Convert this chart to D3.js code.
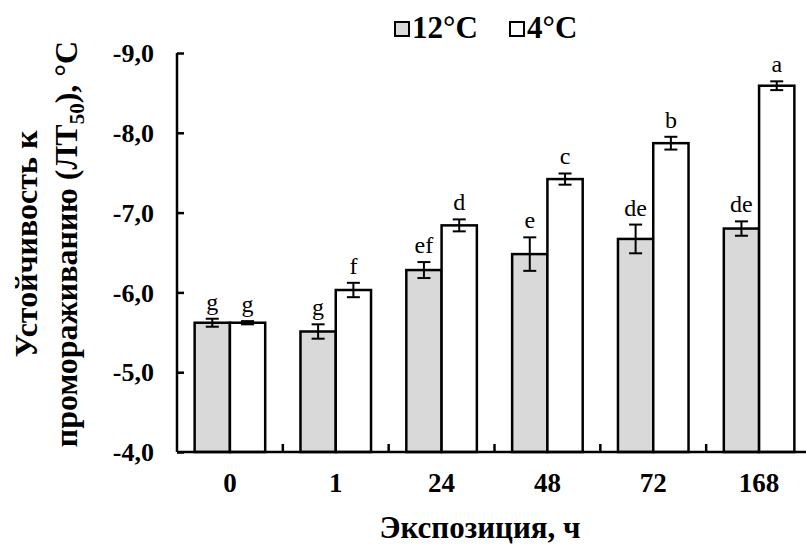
<!DOCTYPE html>
<html>
<head>
<meta charset="utf-8">
<script src="https://cdn.jsdelivr.net/npm/d3@7/dist/d3.min.js"></script>
<style>
  html, body { margin: 0; padding: 0; background: #fff; }
  svg { display: block; }
</style>
</head>
<body>
<svg id="chart" width="806" height="546" font-family="'Liberation Serif', serif"></svg>
<script>
// Exposure time (hours) and frost resistance LT50 (°C) for two hardening temperatures
const categories = ["0", "1", "24", "48", "72", "168"];
const seriesNames = ["12°C", "4°C"];
const values12 = [-5.62, -5.51, -6.28, -6.48, -6.67, -6.80];
const errors12 = [0.05, 0.09, 0.10, 0.21, 0.18, 0.09];
const letters12 = ["g", "g", "ef", "e", "de", "de"];
const values4 = [-5.62, -6.03, -6.84, -7.42, -7.87, -8.59];
const errors4 = [0.02, 0.09, 0.075, 0.07, 0.08, 0.055];
const letters4 = ["g", "f", "d", "c", "b", "a"];
const yTicks = [-4, -5, -6, -7, -8, -9];
const fills = ["#d9d9d9", "#ffffff"];

const rows = categories.map((c, i) => ({
  cat: c,
  bars: [
    { s: 0, v: values12[i], e: errors12[i], l: letters12[i] },
    { s: 1, v: values4[i], e: errors4[i], l: letters4[i] }
  ]
}));

const svg = d3.select("#chart");
const plotL = 177, plotR = 812, plotT = 53, plotB = 452;

const x = d3.scaleBand().domain(categories).range([plotL, plotR]).paddingInner(0).paddingOuter(0);
const xs = d3.scaleBand().domain([0, 1]).range([0, x.bandwidth()]).paddingInner(0).paddingOuter(0.5);
const y = d3.scaleLinear().domain([-4, -9]).range([plotB, plotT]);

// bars
const g = svg.append("g");
const groups = g.selectAll("g.cat").data(rows).join("g")
  .attr("transform", d => `translate(${x(d.cat)},0)`);

groups.selectAll("rect").data(d => d.bars).join("rect")
  .attr("x", d => xs(d.s))
  .attr("y", d => y(d.v))
  .attr("width", xs.bandwidth())
  .attr("height", d => y(-4) - y(d.v))
  .attr("fill", d => fills[d.s])
  .attr("stroke", "#000")
  .attr("stroke-width", 2.5);

// error bars
const cap = 6.5;
const eb = groups.selectAll("g.err").data(d => d.bars).join("g").attr("class", "err")
  .attr("stroke", "#000").attr("stroke-width", 2);
eb.append("line")
  .attr("x1", d => xs(d.s) + xs.bandwidth() / 2).attr("x2", d => xs(d.s) + xs.bandwidth() / 2)
  .attr("y1", d => y(d.v - d.e)).attr("y2", d => y(d.v + d.e));
eb.append("line")
  .attr("x1", d => xs(d.s) + xs.bandwidth() / 2 - cap).attr("x2", d => xs(d.s) + xs.bandwidth() / 2 + cap)
  .attr("y1", d => y(d.v - d.e)).attr("y2", d => y(d.v - d.e));
eb.append("line")
  .attr("x1", d => xs(d.s) + xs.bandwidth() / 2 - cap).attr("x2", d => xs(d.s) + xs.bandwidth() / 2 + cap)
  .attr("y1", d => y(d.v + d.e)).attr("y2", d => y(d.v + d.e));

// significance letters
groups.selectAll("text.sig").data(d => d.bars).join("text").attr("class", "sig")
  .attr("x", d => xs(d.s) + xs.bandwidth() / 2)
  .attr("y", d => y(d.v - d.e) - 9)
  .attr("text-anchor", "middle")
  .attr("font-size", 24)
  .text(d => d.l);

// y axis
const yAxis = d3.axisRight(y).tickValues(yTicks).tickSize(7).tickFormat(() => "");
const ya = svg.append("g").attr("transform", `translate(${plotL},0)`).call(yAxis);
ya.select(".domain").remove();
ya.selectAll(".tick line").attr("stroke", "#000").attr("stroke-width", 2.5);
svg.append("line").attr("x1", plotL).attr("x2", plotL).attr("y1", plotT).attr("y2", plotB)
  .attr("stroke", "#000").attr("stroke-width", 2.5);

svg.append("g").selectAll("text").data(yTicks).join("text")
  .attr("x", 154).attr("y", d => y(d)).attr("dy", "0.35em")
  .attr("text-anchor", "end").attr("font-size", 26).attr("font-weight", "bold")
  .text(d => d3.format(".1f")(d).replace(".", ",").replace("−", "-"));

// x axis: line, inner tick marks between categories, labels
svg.append("line").attr("x1", plotL).attr("x2", plotR).attr("y1", plotB).attr("y2", plotB)
  .attr("stroke", "#000").attr("stroke-width", 2.5);
svg.append("g").selectAll("line").data(categories.slice(1)).join("line")
  .attr("x1", d => x(d)).attr("x2", d => x(d))
  .attr("y1", plotB).attr("y2", plotB - 8)
  .attr("stroke", "#000").attr("stroke-width", 2.5);
svg.append("g").selectAll("text").data(categories).join("text")
  .attr("x", d => x(d) + x.bandwidth() / 2).attr("y", 492)
  .attr("text-anchor", "middle").attr("font-size", 27).attr("font-weight", "bold")
  .text(d => d);

// axis titles
svg.append("text").attr("x", 480).attr("y", 538)
  .attr("text-anchor", "middle").attr("font-size", 31).attr("font-weight", "bold")
  .text("Экспозиция, ч");

const yt = svg.append("text").attr("transform", "translate(0,244) rotate(-90)")
  .attr("text-anchor", "middle").attr("font-size", 32).attr("font-weight", "bold");
yt.append("tspan").attr("x", 0).attr("y", 37).text("Устойчивость к");
const l2 = yt.append("tspan").attr("x", 0).attr("y", 77);
l2.append("tspan").text("промораживанию (ЛТ");
l2.append("tspan").attr("font-size", 21).attr("dy", 7).text("50");
l2.append("tspan").attr("dy", -7).text("), °С");

// legend
const legend = svg.append("g");
const legendX = [395, 510];
seriesNames.forEach((name, i) => {
  legend.append("rect").attr("x", legendX[i]).attr("y", 22).attr("width", 14).attr("height", 14)
    .attr("fill", fills[i]).attr("stroke", "#000").attr("stroke-width", 2);
  legend.append("text").attr("x", legendX[i] + 17).attr("y", 38)
    .attr("font-size", 31).attr("font-weight", "bold").text(name);
});
</script>
</body>
</html>
